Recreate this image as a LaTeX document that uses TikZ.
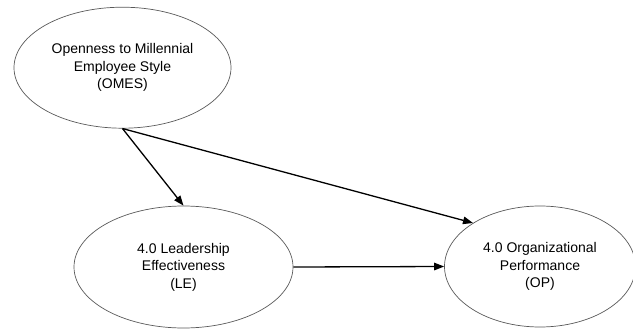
\documentclass[tikz,border=0pt]{standalone}
\usepackage{fontspec}
\setmainfont{Liberation Sans}
\usetikzlibrary{shapes.geometric,arrows.meta}
\tikzset{
  construct/.style={ellipse, draw=black!65, line width=0.7pt, inner sep=0pt, align=center,
    font=\fontsize{14}{17.5}\selectfont},
  path arrow/.style={draw=black, line width=1.3pt, -{Stealth[length=10pt,width=7.5pt,inset=0pt]}}
}
\begin{document}
\begin{tikzpicture}[x=1pt,y=-1pt]
\useasboundingbox (0,0) rectangle (633,330);
\node[construct, minimum width=217pt, minimum height=121pt] (omes) at (122.5,67.7)
  {Openness to Millennial\\Employee Style\\(OMES)};
\node[construct, minimum width=219pt, minimum height=122pt] (le) at (183.5,267)
  {4.0 Leadership\\Effectiveness\\(LE)};
\node[construct, minimum width=191pt, minimum height=121pt] (op) at (540,266.5)
  {4.0 Organizational\\Performance\\(OP)};
\draw[path arrow] (omes.south) -- (le.north);
\draw[path arrow] (omes.south) -- (op.147);
\draw[path arrow] (le.east) -- (op.west);
\end{tikzpicture}
\end{document}
